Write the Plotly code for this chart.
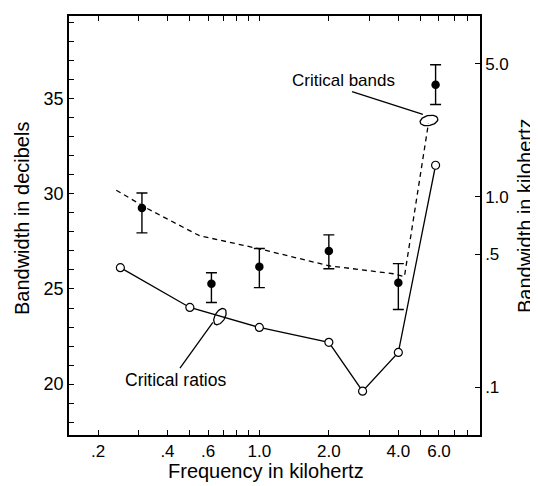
import numpy as np
import plotly.graph_objects as go

# ---------------- data ----------------
band_freq = [0.31, 0.62, 1.0, 2.0, 4.0, 5.8]
band_db = [29.25, 25.28, 26.17, 27.0, 25.33, 35.73]
band_err_plus = [0.79, 0.57, 0.96, 0.84, 1.0, 1.05]
band_err_minus = [1.3, 0.99, 1.1, 0.94, 1.41, 1.04]

ratio_freq = [0.25, 0.5, 1.0, 2.0, 2.8, 4.0, 5.8]
ratio_db = [26.12, 24.03, 22.98, 22.2, 19.63, 21.67, 31.5]

curve_freq = [0.24, 0.33, 0.55, 1.0, 2.0, 3.8, 4.25, 5.4]
curve_db = [30.19, 29.2, 27.8, 27.11, 26.22, 25.8, 25.65, 33.7]

x_tickvals = [0.2, 0.3, 0.4, 0.5, 0.6, 0.7, 0.8, 0.9, 1, 2, 3, 4, 5, 6, 7, 8, 9]
x_labels = {0.2: ".2", 0.4: ".4", 0.6: ".6", 1: "1.0", 2: "2.0", 4: "4.0", 6: "6.0"}
y_tickvals = list(range(18, 40))
y_labels = {20: "20", 25: "25", 30: "30", 35: "35"}
y2_tickvals = [0.1, 0.5, 1.0, 5.0]
y2_ticktext = [".1", ".5", "1.0", "5.0"]

# ---------------- layout geometry ----------------
# the page body adds an 8px margin, so the figure is drawn 8px in from the window edge
OFF = 8
W, H = 538 - OFF, 486 - OFF
ML, MR, MT, MB = 69 - OFF, 58, 14 - OFF, 51
PW, PH = W - ML - MR, H - MT - MB
XR = [-0.8246, 0.9558]
YR = [17.33, 39.34]
Y2R = [-1.251, 0.950]
px_per_dec = PW / (XR[1] - XR[0])
px_per_db = PH / (YR[1] - YR[0])

FONT = "Liberation Sans, Arial, sans-serif"


def paper_x(win_px):
    return (win_px - OFF - ML) / PW


def paper_y(win_px):
    return (H - MB - (win_px - OFF)) / PH


def ellipse(cx, cy, a, b, ang_deg, n=60):
    t = np.linspace(0, 2 * np.pi, n)
    th = np.radians(ang_deg)
    dx = a * np.cos(t) * np.cos(th) - b * np.sin(t) * np.sin(th)
    dy = a * np.cos(t) * np.sin(th) + b * np.sin(t) * np.cos(th)
    xs = 10 ** (np.log10(cx) + dx / px_per_dec)
    ys = cy + dy / px_per_db
    return xs, ys


fig = go.Figure()

line_style = dict(color="black", width=1.3)

# critical-band curve (dashed)
fig.add_trace(go.Scatter(x=curve_freq, y=curve_db, mode="lines",
                         line=dict(color="black", width=1.3, dash="5px,4px"),
                         hoverinfo="skip", showlegend=False))

# critical ratios (open circles, solid line)
fig.add_trace(go.Scatter(x=ratio_freq, y=ratio_db, mode="lines+markers",
                         line=line_style,
                         marker=dict(symbol="circle", size=8, color="white",
                                     line=dict(color="black", width=1.2)),
                         showlegend=False))

# critical bands measurements (filled circles with error bars)
fig.add_trace(go.Scatter(x=band_freq, y=band_db, mode="markers",
                         marker=dict(symbol="circle", size=8.5, color="black"),
                         error_y=dict(type="data", array=band_err_plus,
                                      arrayminus=band_err_minus, symmetric=False,
                                      color="black", thickness=1.4, width=5.5),
                         showlegend=False))

# ellipses marking the curves
ell_specs = [
    (5.43, 33.85, 9, 5, 12),   # critical bands
    (0.675, 23.55, 9, 5, 60),  # critical ratios
]
for cx, cy, a, b, ang in ell_specs:
    ex, ey = ellipse(cx, cy, a, b, ang)
    fig.add_trace(go.Scatter(x=ex, y=ey, mode="lines", line=dict(color="black", width=1.3),
                             hoverinfo="skip", showlegend=False))

# leader lines
leaders = [
    ([2.52, 5.11], [35.37, 34.17]),
    ([0.453, 0.629], [20.84, 23.24]),
]
for lx, ly in leaders:
    fig.add_trace(go.Scatter(x=lx, y=ly, mode="lines", line=dict(color="black", width=1.3),
                             hoverinfo="skip", showlegend=False))

# invisible trace on the kHz axis so the right axis is drawn
fig.add_trace(go.Scatter(x=ratio_freq, y=[10 ** (d / 10) / 1000 for d in ratio_db],
                         yaxis="y2", mode="none", hoverinfo="skip", showlegend=False))

axis_common = dict(showgrid=False, zeroline=False, showline=True, linecolor="black",
                   linewidth=1.5, ticks="inside", ticklen=5, tickwidth=1.3,
                   tickcolor="black", tickfont=dict(family=FONT, size=17, color="black"))

fig.update_layout(
    width=W, height=H,
    margin=dict(l=ML, r=MR, t=MT, b=MB, pad=0),
    paper_bgcolor="white", plot_bgcolor="white",
    xaxis=dict(type="log", range=XR, tickmode="array", tickvals=x_tickvals,
               ticktext=[x_labels.get(v, "") for v in x_tickvals],
               mirror="ticks", **axis_common),
    yaxis=dict(range=YR, tickmode="array", tickvals=y_tickvals,
               ticktext=[y_labels.get(v, "") for v in y_tickvals],
               **{**axis_common, "tickfont": dict(family=FONT, size=18, color="black")}),
    yaxis2=dict(type="log", range=Y2R, overlaying="y", side="right", anchor="x",
                tickmode="array", tickvals=y2_tickvals, ticktext=y2_ticktext,
                **axis_common),
    annotations=[
        dict(text="Frequency in kilohertz", xref="paper", yref="paper",
             x=paper_x(266), y=paper_y(471), xanchor="center", yanchor="middle",
             showarrow=False, font=dict(family=FONT, size=20, color="black")),
        dict(text="Bandwidth in decibels", xref="paper", yref="paper",
             x=paper_x(22), y=paper_y(218), xanchor="center", yanchor="middle",
             textangle=-90, showarrow=False, font=dict(family=FONT, size=20, color="black")),
        dict(text="Bandwidth in kilohertz", xref="paper", yref="paper",
             x=paper_x(525), y=paper_y(215), xanchor="center", yanchor="middle",
             textangle=-90, showarrow=False, font=dict(family=FONT, size=20, color="black")),
        dict(text="Critical bands", xref="x", yref="y",
             x=np.log10(2.32), y=35.95, xanchor="center", yanchor="middle",
             showarrow=False, font=dict(family=FONT, size=17, color="black")),
        dict(text="Critical ratios", xref="x", yref="y",
             x=np.log10(0.435), y=20.2, xanchor="center", yanchor="middle",
             showarrow=False, font=dict(family=FONT, size=17.5, color="black")),
    ],
)

fig.write_html("out.html")
